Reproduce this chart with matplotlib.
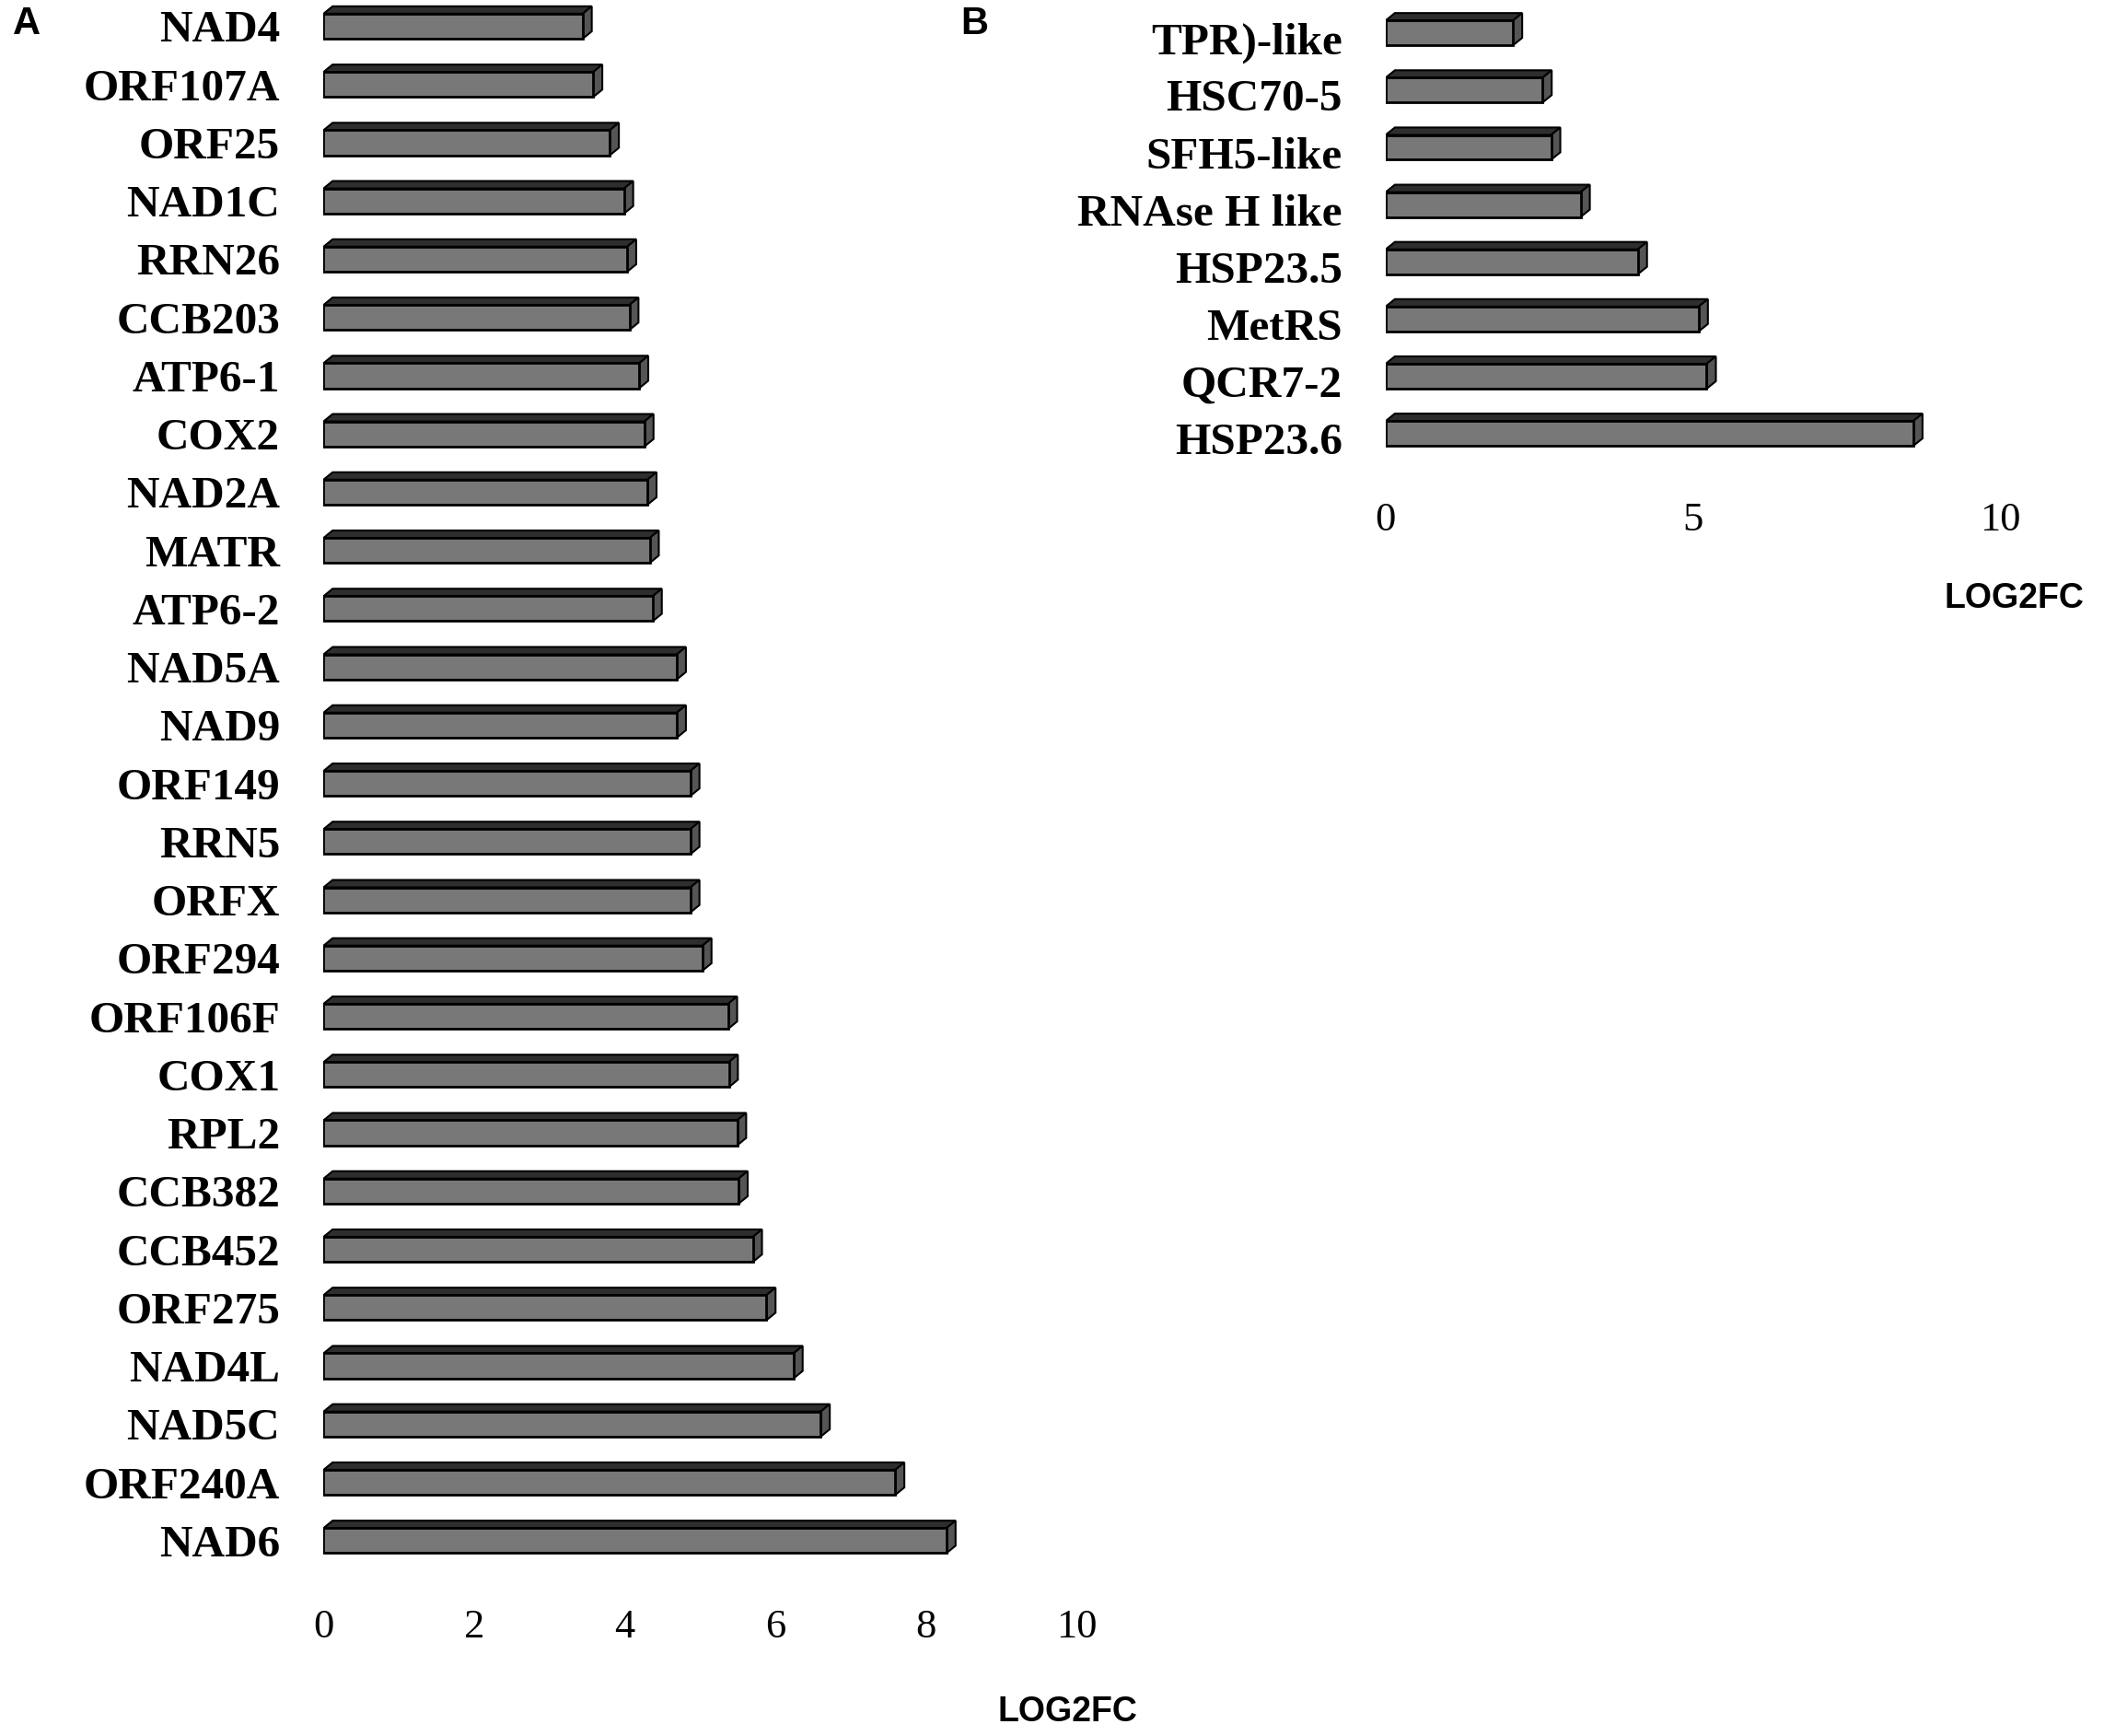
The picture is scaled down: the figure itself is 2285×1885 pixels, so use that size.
import matplotlib.pyplot as plt
from matplotlib.patches import Polygon, Rectangle
from matplotlib.transforms import ScaledTranslation

# panel A data (top to bottom)
genes_a = ["NAD4", "ORF107A", "ORF25", "NAD1C", "RRN26", "CCB203", "ATP6-1", "COX2",
           "NAD2A", "MATR", "ATP6-2", "NAD5A", "NAD9", "ORF149", "RRN5", "ORFX",
           "ORF294", "ORF106F", "COX1", "RPL2", "CCB382", "CCB452", "ORF275",
           "NAD4L", "NAD5C", "ORF240A", "NAD6"]
log2fc_a = [3.44, 3.58, 3.80, 3.99, 4.03, 4.06, 4.19, 4.26, 4.30, 4.33, 4.37, 4.69,
            4.69, 4.87, 4.87, 4.87, 5.03, 5.37, 5.38, 5.49, 5.51, 5.70, 5.88, 6.24,
            6.60, 7.59, 8.27]
ticks_a = [0, 2, 4, 6, 8, 10]

# panel B data (top to bottom)
genes_b = ["TPR)-like", "HSC70-5", "SFH5-like", "RNAse H like", "HSP23.5",
           "MetRS", "QCR7-2", "HSP23.6"]
log2fc_b = [2.07, 2.55, 2.69, 3.17, 4.10, 5.09, 5.22, 8.58]
ticks_b = [0, 5, 10]

W, H = 1567.0, 1293.0  # layout measured on a scaled copy

fig = plt.figure(figsize=(22.85, 18.85), dpi=100)


def bars3d(ax, vals, h, dx, dy):
    for i, v in enumerate(vals):
        top = i - h / 2
        bot = i + h / 2
        # top face
        ax.add_patch(Polygon([(0, top), (v, top), (v + dx, top - dy), (dx, top - dy)],
                             closed=True, facecolor="#2e2e2e", edgecolor="black",
                             lw=1.5, zorder=2))
        # right face
        ax.add_patch(Polygon([(v, top), (v + dx, top - dy), (v + dx, bot - dy), (v, bot)],
                             closed=True, facecolor="#555555", edgecolor="black",
                             lw=1.5, zorder=2))
        # front face
        ax.add_patch(Rectangle((0, top), v, h, facecolor="#787878",
                               edgecolor="black", lw=2, zorder=3))


def setup(ax, labels, ticks, xmax):
    ax.set_xlim(0, xmax)
    ax.set_yticks(range(len(labels)))
    ax.set_yticklabels(labels, fontfamily="Liberation Serif", fontweight="bold",
                       fontsize=35.5)
    ax.set_xticks(ticks)
    ax.set_xticklabels([str(t) for t in ticks], fontfamily="Liberation Serif",
                       fontsize=32)
    ax.tick_params(axis="y", length=0, pad=34)
    ax.tick_params(axis="x", length=0, pad=30)
    for s in ax.spines.values():
        s.set_visible(False)


# panel A
axA = fig.add_axes([241 / W, 1 - 1170 / H, (802 - 241) / W, 1170 / H])
bars3d(axA, log2fc_a, 0.43, 0.12, 0.127)
setup(axA, genes_a, ticks_a, 10)
axA.set_ylim(26.52, -0.45)

# panel B
axB = fig.add_axes([1032 / W, 1 - 345 / H, (1490 - 1032) / W, 345 / H])
bars3d(axB, log2fc_b, 0.434, 0.15, 0.13)
setup(axB, genes_b, ticks_b, 10)
axB.set_ylim(7.52, -0.575)
shift = ScaledTranslation(0, -4 / 72, fig.dpi_scale_trans)
for lab in axB.get_yticklabels():
    lab.set_transform(lab.get_transform() + shift)

fig.text(795 / W, 1 - 1275 / H, "LOG2FC", ha="center", va="center",
         fontfamily="Liberation Sans", fontweight="bold", fontsize=27)
fig.text(1500 / W, 1 - 446 / H, "LOG2FC", ha="center", va="center",
         fontfamily="Liberation Sans", fontweight="bold", fontsize=27)
fig.text(20 / W, 1 - 18 / H, "A", ha="center", va="center",
         fontfamily="Liberation Sans", fontweight="bold", fontsize=30)
fig.text(726 / W, 1 - 18 / H, "B", ha="center", va="center",
         fontfamily="Liberation Sans", fontweight="bold", fontsize=30)

fig.savefig("out.png", dpi=100)
